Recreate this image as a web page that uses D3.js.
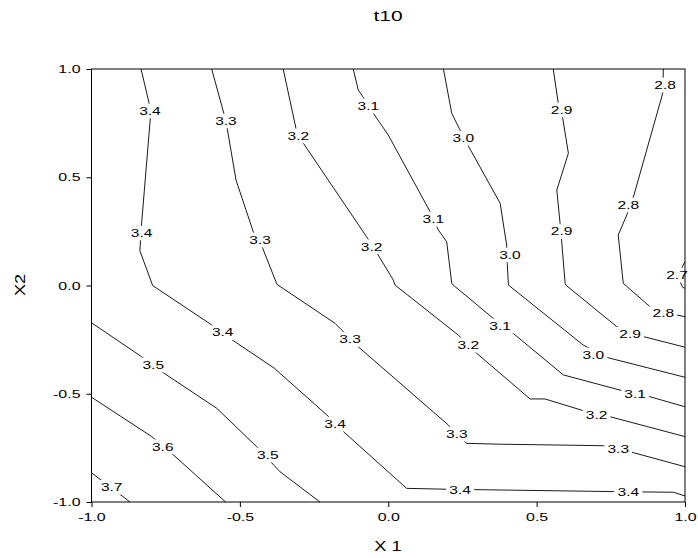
<!DOCTYPE html>
<html><head><meta charset="utf-8">
<script src="https://cdn.jsdelivr.net/npm/d3@7"></script>
<style>body{margin:0;background:#fff} text{font-family:"Liberation Sans",Arial,sans-serif;fill:#000}</style>
</head><body><svg id="c" width="698" height="558"></svg>
<script>
const title = "t10";
const xLabel = "X 1", yLabel = "X2";
const xTicks = [-1.0, -0.5, 0.0, 0.5, 1.0];
const yTicks = [-1.0, -0.5, 0.0, 0.5, 1.0];

// contour polylines as [x1, x2] and label anchors
const c37 = [[-1.0,-0.865],[-0.870,-1.0]];
const lab37 = [[-0.932,-0.932]];
const c36 = [[-1.0,-0.516],[-0.797,-0.698],[-0.730,-0.775],[-0.548,-1.0]];
const lab36 = [[-0.760,-0.745]];
const c35 = [[-1.0,-0.172],[-0.831,-0.329],[-0.758,-0.403],[-0.578,-0.567],[-0.443,-0.745],[-0.365,-0.860],[-0.230,-1.0]];
const lab35 = [[-0.792,-0.367],[-0.406,-0.783]];
const c34 = [[-0.833,1.0],[-0.806,0.843],[-0.802,0.769],[-0.831,0.289],[-0.837,0.161],[-0.794,0.0],[-0.595,-0.182],[-0.522,-0.255],[-0.384,-0.382],[-0.207,-0.598],[-0.151,-0.675],[0.062,-0.937],[0.197,-0.941],[0.758,-0.952],[0.961,-0.955],[1.0,-0.972]];
const lab34 = [[-0.803,0.806],[-0.831,0.242],[-0.558,-0.218],[-0.179,-0.640],[0.242,-0.945],[0.809,-0.957]];
const c33 = [[-0.595,1.0],[-0.547,0.760],[-0.513,0.487],[-0.455,0.249],[-0.423,0.172],[-0.375,0.005],[-0.179,-0.175],[-0.101,-0.283],[0.202,-0.644],[0.264,-0.729],[0.377,-0.733],[0.725,-0.740],[0.815,-0.768],[1.0,-0.837]];
const lab33 = [[-0.547,0.760],[-0.432,0.210],[-0.129,-0.249],[0.231,-0.686],[0.775,-0.757]];
const c32 = [[-0.354,1.0],[-0.311,0.726],[-0.286,0.657],[-0.073,0.225],[-0.034,0.141],[0.017,0.025],[0.023,0.002],[0.236,-0.229],[0.298,-0.313],[0.478,-0.524],[0.528,-0.524],[0.669,-0.583],[0.747,-0.606],[1.0,-0.698]];
const lab32 = [[-0.303,0.691],[-0.056,0.179],[0.270,-0.275],[0.702,-0.598]];
const c31 = [[-0.118,1.0],[-0.101,0.903],[-0.084,0.869],[-0.050,0.795],[0.000,0.695],[0.141,0.341],[0.169,0.256],[0.197,0.202],[0.214,0.010],[0.219,0.002],[0.354,-0.152],[0.421,-0.221],[0.590,-0.413],[0.781,-0.483],[0.882,-0.514],[1.0,-0.560]];
const lab31 = [[-0.067,0.829],[0.152,0.306],[0.377,-0.187],[0.832,-0.501]];
const c30 = [[0.186,1.0],[0.214,0.795],[0.239,0.726],[0.270,0.644],[0.377,0.380],[0.399,0.187],[0.401,0.103],[0.405,0.002],[0.657,-0.275],[0.736,-0.332],[1.0,-0.424]];
const lab30 = [[0.253,0.680],[0.410,0.141],[0.691,-0.321]];
const c29 = [[0.556,1.0],[0.573,0.842],[0.588,0.772],[0.607,0.611],[0.568,0.441],[0.579,0.287],[0.584,0.210],[0.596,0.010],[0.600,0.0],[0.770,-0.190],[0.860,-0.236],[1.0,-0.285]];
const lab29 = [[0.584,0.811],[0.584,0.249],[0.815,-0.225]];
const c28 = [[0.927,1.0],[0.925,0.888],[0.828,0.418],[0.804,0.326],[0.775,0.233],[0.792,0.010],[0.888,-0.105],[0.972,-0.136],[1.0,-0.144]];
const lab28 = [[0.933,0.926],[0.809,0.372],[0.927,-0.128]];
const c27 = [[1.0,0.110],[0.991,0.087],[0.983,0.018],[0.992,-0.008],[1.0,-0.013]];
const lab27 = [[0.973,0.048]];

const levels = ["3.7","3.6","3.5","3.4","3.3","3.2","3.1","3.0","2.9","2.8","2.7"];
const lines = [c37,c36,c35,c34,c33,c32,c31,c30,c29,c28,c27];
const labels = [lab37,lab36,lab35,lab34,lab33,lab32,lab31,lab30,lab29,lab28,lab27];

const svg = d3.select("#c");
const x = d3.scaleLinear().domain([-1, 1]).range([91.5, 685]);
const y = d3.scaleLinear().domain([-1, 1]).range([502, 69]);

// wide text helper (reference glyphs are horizontally stretched)
function wideText(sel, px, py, str, size, sx, anchor) {
  return sel.append("text").attr("transform", `translate(${px},${py}) scale(${sx},1)`)
    .attr("text-anchor", anchor || "middle").style("font-size", size + "px").text(str);
}

// title
wideText(svg, 388, 21, title, 14, 1.5);

// contour lines
const line = d3.line().x(d => x(d[0])).y(d => y(d[1]));
const gL = svg.append("g");
lines.forEach(pts => {
  gL.append("path").attr("d", line(pts)).attr("fill", "none")
    .attr("stroke", "#000").attr("stroke-width", 0.9);
});

// contour labels
const gT = svg.append("g");
const LS = 1.35;
labels.forEach((labs, i) => {
  labs.forEach(p => {
    const px = x(p[0]), py = y(p[1]);
    const t = wideText(gT, px, py, levels[i], 11.5, LS).attr("dominant-baseline", "central");
    const b = t.node().getBBox();
    const w = b.width * LS;
    gT.insert("rect", () => t.node()).attr("x", px - w / 2 - 3).attr("y", py + b.y - 1)
      .attr("width", w + 6).attr("height", b.height + 2).attr("fill", "#fff");
  });
});

// frame
svg.append("rect").attr("x", x(-1)).attr("y", y(1)).attr("width", x(1) - x(-1))
  .attr("height", y(-1) - y(1)).attr("fill", "none").attr("stroke", "#000").attr("stroke-width", 1);

// axes
const TS = 1.45;
const fmt = d => d3.format(".1f")(d).replace("−", "-");
const xa = svg.append("g").attr("transform", `translate(0,${y(-1)})`)
  .call(d3.axisBottom(x).tickValues(xTicks).tickFormat(fmt).tickSize(5).tickPadding(6));
const ya = svg.append("g").attr("transform", `translate(${x(-1)},0)`)
  .call(d3.axisLeft(y).tickValues(yTicks).tickFormat(fmt).tickSize(5).tickPadding(6));
[xa, ya].forEach(a => {
  a.select(".domain").remove();
  a.selectAll("line").attr("stroke", "#000");
  a.selectAll("text").style("font-size", "11px").style("font-family", "Liberation Sans, Arial, sans-serif")
    .attr("fill", "#000").attr("transform", `scale(${TS},1)`);
});
ya.selectAll("text").attr("x", -11 / TS);

// axis labels
wideText(svg, 388, 551, xLabel, 14, 1.3);
svg.append("text").attr("transform", "translate(25,285) rotate(-90) scale(1.3,1)").attr("text-anchor", "middle")
  .style("font-size", "14px").text(yLabel);
</script></body></html>
